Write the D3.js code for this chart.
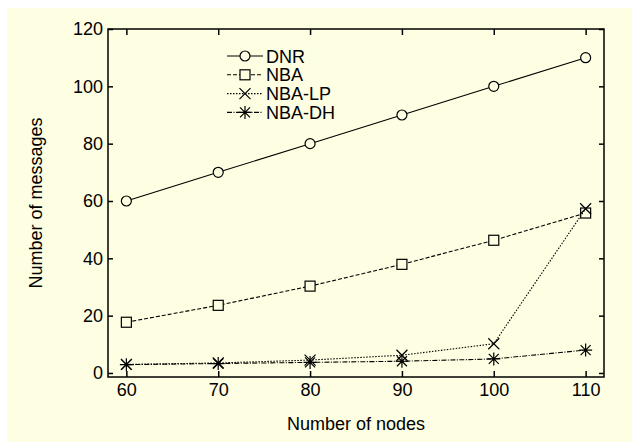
<!DOCTYPE html>
<html>
<head>
<meta charset="utf-8">
<script src="https://cdn.jsdelivr.net/npm/d3@7"></script>
<style>
  body { margin: 0; background: #ffffff; }
  svg text { font-family: "Liberation Sans", Arial, sans-serif; fill: #000; }
</style>
</head>
<body>
<svg id="chart" width="632" height="442"></svg>
<script>
// data
const nodes = [60, 70, 80, 90, 100, 110];
const dnr = [60, 70, 80, 90, 100, 110];
const nba = [17.7, 23.6, 30.3, 37.9, 46.3, 55.8];
const nbaLp = [3.0, 3.5, 4.5, 6.2, 10.2, 57.3];
const nbaDh = [2.9, 3.3, 3.7, 4.1, 4.9, 8.0];
const seriesNames = ['DNR', 'NBA', 'NBA-LP', 'NBA-DH'];
const xTicks = [60, 70, 80, 90, 100, 110];
const yTicks = [0, 20, 40, 60, 80, 100, 120];

drawChart();

function drawChart(){
    let svg = d3.select('#chart');

    // yellow panel, leaves a thin white strip at top and left
    svg.append('rect')
        .attr('x', 7).attr('y', 8)
        .attr('width', 625).attr('height', 434)
        .attr('fill', '#fefee2');

    let x = d3.scaleLinear().domain([58, 112]).range([108, 604]);
    let y = d3.scaleLinear().domain([-1.4, 120]).range([377, 29]);

    let series = [
        {name: seriesNames[0], values: dnr, dash: null, marker: 'circle'},
        {name: seriesNames[1], values: nba, dash: '4,2', marker: 'square'},
        {name: seriesNames[2], values: nbaLp, dash: '1.5,1.5', marker: 'x'},
        {name: seriesNames[3], values: nbaDh, dash: '5,1.5,1,1.5', marker: 'star'}
    ];

    let line = d3.line()
        .x((d, i) => x(nodes[i]))
        .y(d => y(d));

    series.forEach(s => {
        svg.append('path')
            .attr('d', line(s.values))
            .attr('fill', 'none')
            .attr('stroke', '#000')
            .attr('stroke-width', 1.1)
            .attr('stroke-dasharray', s.dash);
        s.values.forEach((v, i) => drawMarker(svg, s.marker, x(nodes[i]), y(v)));
    });

    // box axes, ticks pointing inward
    let xAxisB = d3.axisBottom(x).tickValues(xTicks).tickSizeInner(-6).tickSizeOuter(0).tickPadding(10);
    let xAxisT = d3.axisTop(x).tickValues(xTicks).tickSizeInner(-6).tickSizeOuter(0).tickFormat('');
    let yAxisL = d3.axisLeft(y).tickValues(yTicks).tickSizeInner(-5).tickSizeOuter(0).tickPadding(10);
    let yAxisR = d3.axisRight(y).tickValues(yTicks).tickSizeInner(-5).tickSizeOuter(0).tickFormat('');

    let gxb = svg.append('g').attr('transform', 'translate(0,377)').call(xAxisB);
    let gxt = svg.append('g').attr('transform', 'translate(0,29)').call(xAxisT);
    let gyl = svg.append('g').attr('transform', 'translate(108,0)').call(yAxisL);
    let gyr = svg.append('g').attr('transform', 'translate(604,0)').call(yAxisR);

    [gxb, gxt, gyl, gyr].forEach(g => {
        g.select('.domain').remove();
        g.selectAll('line').attr('stroke', '#000').attr('stroke-width', 1.5);
        g.selectAll('text').style('font-size', '18px').attr('font-family', null);
    });
    gxb.selectAll('text').attr('dy', '0.71em').attr('y', 6);
    gyl.selectAll('text').attr('x', -5);

    svg.append('rect')
        .attr('x', 108).attr('y', 29)
        .attr('width', 496).attr('height', 348)
        .attr('fill', 'none')
        .attr('stroke', '#000')
        .attr('stroke-width', 1.5);

    // axis titles
    svg.append('text')
        .attr('x', 356).attr('y', 430)
        .attr('text-anchor', 'middle')
        .style('font-size', '18px')
        .text('Number of nodes');
    svg.append('text')
        .attr('transform', 'translate(42,203) rotate(-90)')
        .attr('text-anchor', 'middle')
        .style('font-size', '18px')
        .text('Number of messages');

    // legend, no frame
    series.forEach((s, i) => {
        let cy = 56 + i * 18.8;
        svg.append('line')
            .attr('x1', 227).attr('x2', 263)
            .attr('y1', cy).attr('y2', cy)
            .attr('stroke', '#000')
            .attr('stroke-width', 1.1)
            .attr('stroke-dasharray', s.dash);
        drawMarker(svg, s.marker, 245, cy);
        svg.append('text')
            .attr('x', 266).attr('y', cy + 6.5)
            .style('font-size', '18px')
            .text(s.name);
    });
}

function drawMarker(svg, type, cx, cy){
    let g = svg.append('g')
        .attr('transform', 'translate(' + cx + ',' + cy + ')')
        .attr('fill', 'none')
        .attr('stroke', '#000')
        .attr('stroke-width', 1.2);
    if(type == 'circle'){
        g.append('circle').attr('r', 5).attr('fill', '#fefee2');
    } else if(type == 'square'){
        g.append('rect').attr('x', -5).attr('y', -5).attr('width', 10).attr('height', 10).attr('fill', '#fefee2');
    } else if(type == 'x'){
        g.append('path').attr('d', 'M-5.5,-5.5L5.5,5.5M-5.5,5.5L5.5,-5.5');
    } else {
        g.append('path').attr('d', 'M-5,-5L5,5M-5,5L5,-5M0,-6.5L0,6.5M-6.5,0L6.5,0');
    }
}
</script>
</body>
</html>
